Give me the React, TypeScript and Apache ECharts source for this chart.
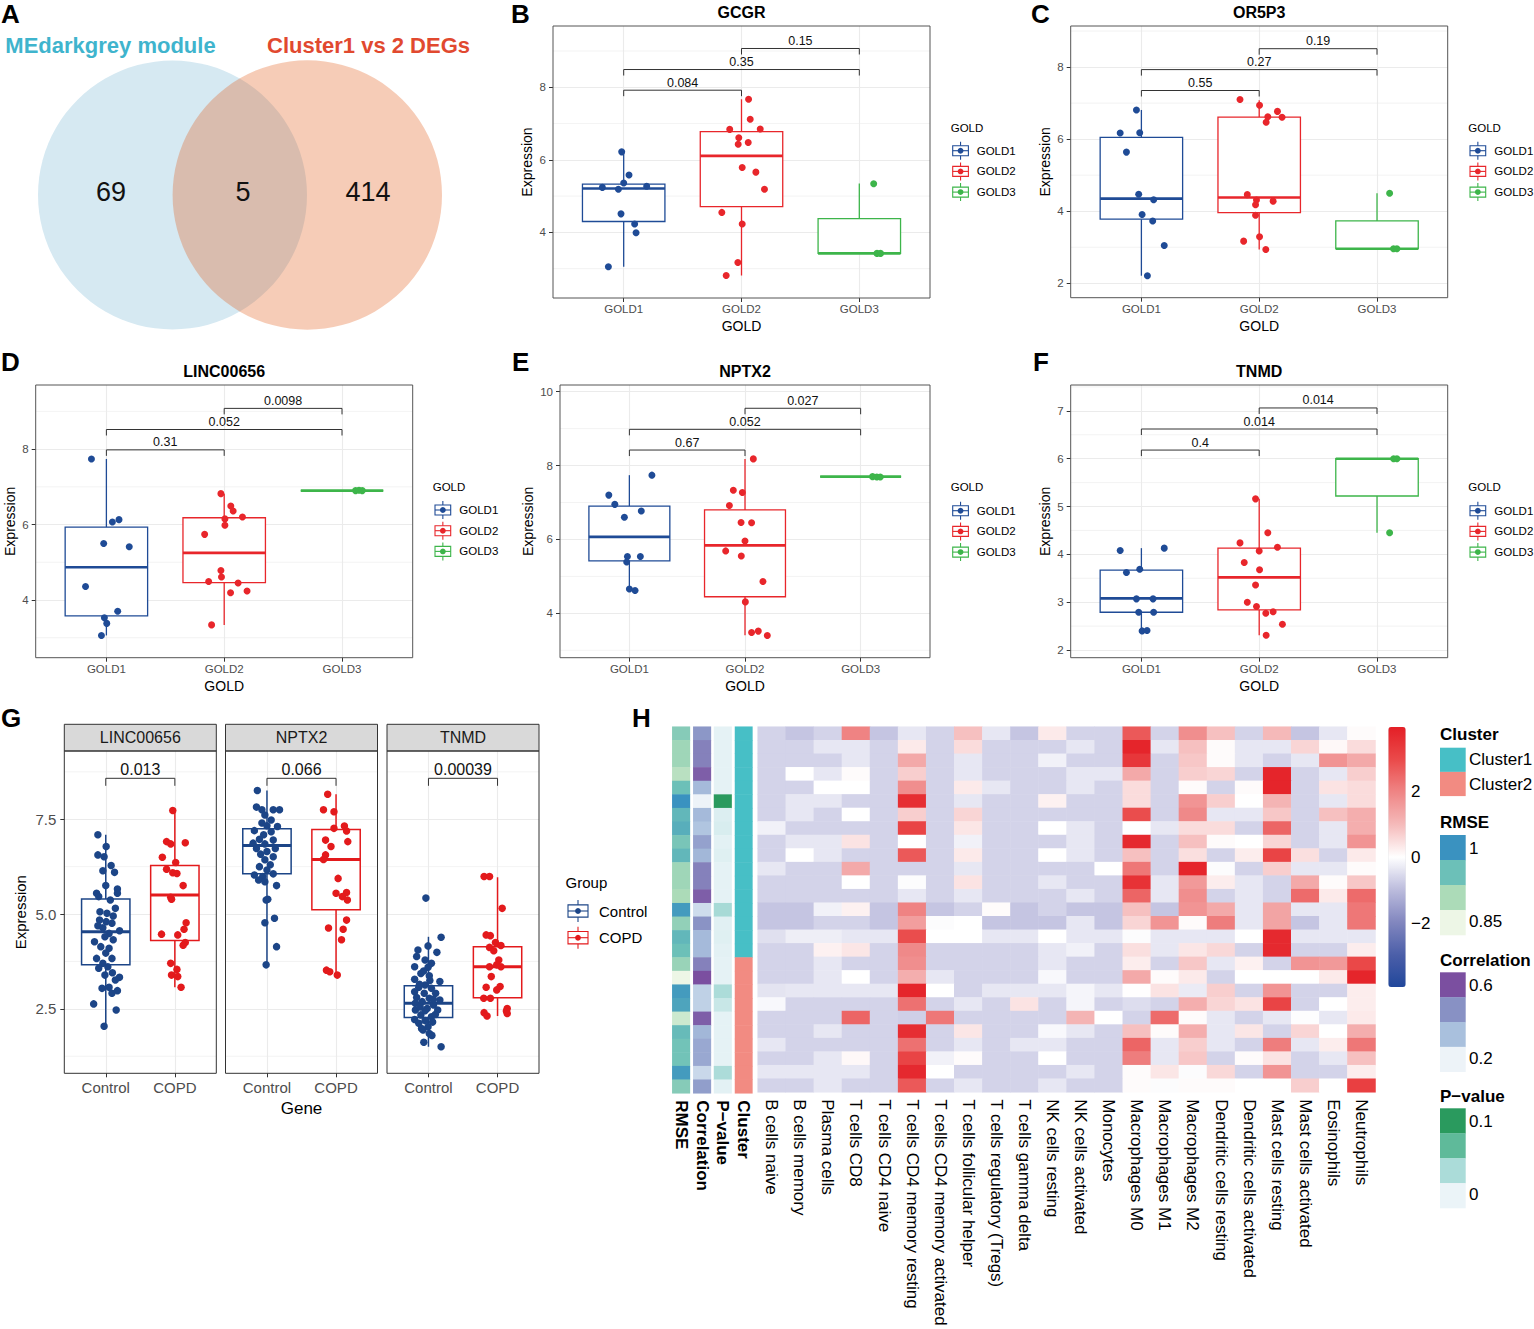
import React, { useEffect, useRef } from "react";
import * as echarts from "echarts";

const FONT = '"Liberation Sans", Arial, Helvetica, sans-serif';

// ---------------- Panel A (Venn) ----------------
const vennSets = ["MEdarkgrey module", "Cluster1 vs 2 DEGs"];
const vennCounts = [69, 5, 414];

// ---------------- Panels B-F (GOLD stages) ----------------
const GOLD = ["GOLD1", "GOLD2", "GOLD3"];
const GOLD_COLORS = ["#1f4b96", "#e8262b", "#3db54a"];

// box stats: [x, min, Q1, median, Q3, max]
const gcgrBoxes = [[1, 3.05, 4.3, 5.21, 5.33, 6.22], [2, 2.81, 4.71, 6.11, 6.78, 7.67], [3, 3.42, 3.42, 3.42, 4.38, 5.35]];
const gcgrGold1 = [[0.983, 6.22], [1.045, 5.58], [1.0, 5.36], [0.819, 5.24], [1.195, 5.27], [0.955, 5.19], [0.977, 4.51], [1.093, 4.23], [1.105, 3.99], [0.87, 3.05]];
const gcgrGold2 = [[2.06, 7.67], [2.074, 7.12], [1.9, 6.84], [2.159, 6.85], [1.977, 6.61], [1.972, 6.43], [2.057, 6.48], [2.006, 5.79], [2.122, 5.66], [2.195, 5.19], [1.833, 4.55], [2.006, 4.23], [1.969, 3.17], [1.87, 2.81]];
const gcgrGold3 = [[3.122, 5.34], [3.15, 3.42], [3.18, 3.42]];
const gcgrBrackets = [[1, 2, 7.92], [1, 3, 8.49], [2, 3, 9.07]];
const gcgrP = ["0.084", "0.35", "0.15"];

const or5p3Boxes = [[1, 2.21, 3.78, 4.35, 6.05, 6.81], [2, 2.94, 3.96, 4.38, 6.61, 7.08], [3, 2.96, 2.96, 2.96, 3.73, 4.5]];
const or5p3Gold1 = [[0.958, 6.81], [0.82, 6.17], [0.986, 6.18], [0.873, 5.64], [0.977, 4.47], [1.104, 4.32], [1.006, 3.91], [1.096, 3.73], [1.194, 3.05], [1.051, 2.21]];
const or5p3Gold2 = [[1.837, 7.1], [2.003, 6.94], [2.155, 6.77], [2.073, 6.62], [2.194, 6.61], [2.059, 6.47], [1.899, 4.46], [1.977, 4.31], [1.969, 4.18], [2.118, 4.28], [1.969, 3.89], [2.003, 3.29], [1.868, 3.17], [2.056, 2.94]];
const or5p3Gold3 = [[3.107, 4.5], [3.14, 2.96], [3.169, 2.96]];
const or5p3Brackets = [[1, 2, 7.35], [1, 3, 7.93], [2, 3, 8.51]];
const or5p3P = ["0.55", "0.27", "0.19"];

const lincBoxes = [[1, 3.06, 3.58, 4.87, 5.93, 7.74], [2, 3.34, 4.46, 5.25, 6.18, 6.82], [3, 6.9, 6.9, 6.9, 6.9, 6.9]];
const lincGold1 = [[0.873, 7.74], [1.107, 6.13], [1.051, 6.07], [0.977, 5.5], [1.194, 5.41], [0.823, 4.36], [1.096, 3.7], [0.983, 3.53], [1.003, 3.38], [0.958, 3.06]];
const lincGold2 = [[1.972, 6.82], [2.056, 6.49], [2.076, 6.36], [2.155, 6.2], [2.006, 6.15], [2.006, 5.98], [1.834, 5.74], [1.972, 4.78], [1.977, 4.61], [1.868, 4.49], [2.118, 4.45], [2.194, 4.24], [2.054, 4.19], [1.893, 3.34]];
const lincGold3 = [[3.115, 6.9], [3.144, 6.91], [3.172, 6.9]];
const lincBrackets = [[1, 2, 7.98], [1, 3, 8.52], [2, 3, 9.08]];
const lincP = ["0.31", "0.052", "0.0098"];

const nptxBoxes = [[1, 4.63, 5.42, 6.07, 6.9, 7.74], [2, 3.41, 4.45, 5.84, 6.8, 8.18], [3, 7.7, 7.7, 7.7, 7.7, 7.7]];
const nptxGold1 = [[1.195, 7.74], [0.822, 7.2], [0.874, 6.95], [1.103, 6.77], [0.957, 6.6], [0.983, 5.54], [1.095, 5.54], [0.977, 5.39], [1.0, 4.66], [1.049, 4.62]];
const nptxGold2 = [[2.072, 8.18], [1.899, 7.33], [1.977, 7.27], [1.865, 6.92], [1.966, 6.46], [2.057, 6.45], [2.0, 5.96], [1.833, 5.69], [1.968, 5.55], [2.155, 4.86], [2.003, 4.31], [2.057, 3.48], [2.115, 3.52], [2.193, 3.4]];
const nptxGold3 = [[3.103, 7.7], [3.14, 7.69], [3.17, 7.69]];
const nptxBrackets = [[1, 2, 8.42], [1, 3, 8.98], [2, 3, 9.55]];
const nptxP = ["0.67", "0.052", "0.027"];

const tnmdBoxes = [[1, 2.4, 2.79, 3.08, 3.67, 4.13], [2, 2.31, 2.84, 3.52, 4.13, 5.16], [3, 4.45, 5.22, 6.0, 6.0, 6.0]];
const tnmdGold1 = [[1.194, 4.13], [0.82, 4.08], [0.873, 3.62], [0.986, 3.69], [0.958, 3.07], [1.099, 3.07], [0.977, 2.79], [1.104, 2.79], [1.006, 2.4], [1.048, 2.41]];
const tnmdGold2 = [[1.969, 5.16], [2.073, 4.45], [1.837, 4.24], [2.155, 4.15], [2.0, 4.07], [1.873, 3.83], [2.003, 3.68], [1.969, 3.36], [1.899, 3.0], [1.977, 2.91], [2.056, 2.77], [2.118, 2.8], [2.197, 2.54], [2.059, 2.31]];
const tnmdGold3 = [[3.107, 4.45], [3.141, 6.0], [3.169, 6.0]];
const tnmdBrackets = [[1, 2, 6.18], [1, 3, 6.62], [2, 3, 7.06]];
const tnmdP = ["0.4", "0.014", "0.014"];

// ---------------- Panel G (Control vs COPD) ----------------
const GROUPS = ["Control", "COPD"];
const GROUP_COLORS = ["#1c4587", "#e31a1c"];
const facetGenes = ["LINC00656", "NPTX2", "TNMD"];
const gLincBoxes = [[1, 2.04, 3.66, 4.53, 5.4, 7.09], [2, 3.07, 4.3, 5.5, 6.28, 7.75]];
const gNptxBoxes = [[1, 3.66, 6.06, 6.81, 7.25, 8.26], [2, 3.41, 5.11, 6.44, 7.23, 8.16]];
const gTnmdBoxes = [[1, 1.5, 2.27, 2.65, 3.11, 4.4], [2, 2.31, 2.79, 3.61, 4.14, 5.97]];
const gLincCtrl = [[0.886, 7.09], [1.006, 6.78], [0.886, 6.56], [0.976, 6.51], [0.958, 6.14], [1.078, 6.28], [1.127, 6.1], [1.0, 5.75], [1.169, 5.66], [0.867, 5.55], [1.169, 5.55], [0.898, 5.46], [1.066, 5.37], [1.139, 5.15], [0.916, 5.06], [1.018, 5.02], [1.108, 4.95], [0.91, 4.84], [1.006, 4.8], [0.886, 4.69], [1.09, 4.76], [0.958, 4.64], [1.2, 4.56], [1.048, 4.49], [0.988, 4.4], [0.837, 4.27], [1.108, 4.32], [0.928, 4.14], [1.048, 4.1], [1.0, 3.97], [0.867, 3.83], [1.09, 3.83], [0.958, 3.7], [1.03, 3.61], [0.898, 3.57], [1.096, 3.45], [0.988, 3.39], [1.199, 3.33], [1.139, 3.26], [0.946, 3.04], [1.048, 3.07], [1.169, 2.98], [1.09, 2.91], [0.825, 2.63], [1.151, 2.47], [0.976, 2.04]];
const gLincCopd = [[1.97, 7.73], [1.88, 6.91], [1.94, 6.85], [2.151, 6.88], [1.819, 6.5], [2.012, 6.36], [1.88, 6.18], [1.97, 6.09], [2.03, 6.07], [2.12, 5.75], [1.94, 5.44], [1.952, 5.39], [2.163, 4.77], [2.133, 4.6], [1.807, 4.47], [2.042, 4.45], [2.151, 4.25], [2.12, 4.18], [1.94, 3.7], [2.03, 3.54], [1.952, 3.39], [2.042, 3.35], [2.09, 3.07]];
const gNptxCtrl = [[0.861, 8.26], [0.848, 7.82], [0.927, 7.75], [1.091, 7.75], [1.182, 7.75], [0.97, 7.61], [1.061, 7.48], [0.927, 7.4], [1.0, 7.33], [1.152, 7.31], [0.818, 7.2], [1.061, 7.17], [0.952, 7.09], [0.891, 6.97], [1.091, 6.95], [0.8, 6.87], [0.97, 6.85], [0.848, 6.73], [1.121, 6.73], [1.0, 6.65], [0.909, 6.58], [1.091, 6.51], [0.97, 6.43], [1.048, 6.3], [0.891, 6.25], [1.0, 6.16], [0.818, 6.03], [0.939, 5.99], [1.091, 6.06], [0.879, 5.9], [0.97, 5.85], [1.139, 5.75], [1.012, 5.39], [0.988, 5.37], [1.109, 4.89], [0.97, 4.77], [1.139, 4.14], [0.988, 3.66]];
const gNptxCopd = [[1.879, 8.16], [1.818, 7.75], [1.97, 7.7], [2.121, 7.32], [1.97, 7.26], [2.152, 7.19], [1.848, 6.95], [2.17, 6.91], [1.927, 6.78], [1.848, 6.56], [1.818, 6.44], [2.03, 5.94], [2.0, 5.55], [2.152, 5.57], [2.091, 5.46], [2.164, 5.37], [2.152, 4.84], [1.891, 4.63], [2.103, 4.6], [2.079, 4.32], [1.861, 3.52], [1.909, 3.48], [2.018, 3.39]];
const gTnmdCtrl = [[0.963, 5.42], [1.183, 4.39], [0.994, 4.16], [0.848, 4.05], [1.122, 3.99], [0.829, 3.88], [0.951, 3.79], [1.043, 3.7], [0.8, 3.61], [0.994, 3.6], [0.89, 3.43], [1.012, 3.37], [0.8, 3.28], [1.165, 3.22], [0.951, 3.13], [0.86, 3.07], [1.043, 3.04], [0.8, 2.95], [0.939, 2.91], [1.104, 2.91], [0.829, 2.8], [1.012, 2.78], [1.165, 2.73], [0.909, 2.69], [0.81, 2.65], [1.073, 2.6], [0.982, 2.51], [0.811, 2.47], [1.134, 2.47], [0.89, 2.34], [1.043, 2.29], [0.8, 2.22], [0.951, 2.19], [0.86, 2.12], [0.994, 2.03], [0.921, 1.94], [1.012, 1.85], [0.933, 1.62], [1.183, 1.5], [0.87, 3.15], [1.07, 2.75], [0.95, 2.45], [1.1, 2.35], [0.88, 2.55], [1.02, 3.25], [0.93, 3.5], [1.06, 2.15], [0.9, 1.98], [1.05, 1.8]];
const gTnmdCopd = [[1.805, 5.99], [1.884, 5.99], [2.067, 5.15], [1.835, 4.45], [1.896, 4.43], [1.97, 4.25], [2.049, 4.17], [1.884, 4.12], [1.945, 4.03], [2.018, 3.79], [1.988, 3.66], [1.884, 3.61], [2.049, 3.61], [1.909, 3.35], [1.835, 3.07], [2.037, 3.09], [1.988, 3.0], [1.8, 2.78], [1.896, 2.78], [2.14, 2.51], [2.14, 2.38], [1.805, 2.4], [1.848, 2.31], [2.128, 2.44]];
const gBrackets = [[1, 2, 8.58]];
const gP = ["0.013", "0.066", "0.00039"];

// ---------------- Panel H (immune heatmap) ----------------
const cellTypes = ["B cells naive", "B cells memory", "Plasma cells", "T cells CD8", "T cells CD4 naive", "T cells CD4 memory resting", "T cells CD4 memory activated", "T cells follicular helper", "T cells regulatory (Tregs)", "T cells gamma delta", "NK cells resting", "NK cells activated", "Monocytes", "Macrophages M0", "Macrophages M1", "Macrophages M2", "Dendritic cells resting", "Dendritic cells activated", "Mast cells resting", "Mast cells activated", "Eosinophils", "Neutrophils"];
const immuneZ = [
  [-0.65, -0.85, -0.65, 2.0, -0.85, -0.35, -0.65, 0.9, -0.35, -0.85, 0.3, -0.65, -0.65, 2.7, -0.65, 1.8, 0.9, -0.65, 1.0, -0.85, -0.35, 0.05],
  [-0.65, -0.65, -0.35, -0.35, -0.65, 0.3, -0.65, 0.5, -0.65, -0.65, -0.65, -0.35, -0.65, 3.8, -0.35, 0.9, 0.05, -0.35, -0.35, 0.6, 0.1, 0.5],
  [-0.65, -0.65, -0.65, -0.35, -0.65, 1.3, -0.65, -0.35, -0.65, -0.65, -0.2, -0.65, -0.65, 3.4, -0.65, 0.8, 0.05, -0.35, -0.65, -0.35, 1.7, 1.3],
  [-0.65, 0.0, -0.35, 0.05, -0.65, 0.7, -0.65, -0.35, -0.65, -0.65, -0.65, -0.35, -0.35, 1.3, -0.65, 0.7, 0.6, -0.65, 3.8, -0.65, -0.35, 0.7],
  [-0.65, -0.65, 0.0, 0.0, -0.65, 1.8, -0.65, 0.3, -0.35, -0.65, -0.65, -0.35, -0.65, 0.5, -0.65, 0.05, -0.65, 0.05, 3.8, -0.65, 0.4, 0.5],
  [-0.65, -0.35, -0.35, -0.65, -0.65, 3.6, -0.65, -0.35, -0.65, -0.65, 0.2, -0.65, -0.65, 0.5, -0.65, 1.7, 0.7, 0.0, 1.1, -0.65, -0.35, 0.5],
  [-0.65, -0.35, -0.65, 0.0, -0.65, 0.7, -0.65, 0.6, -0.65, -0.65, -0.65, -0.65, -0.65, 2.9, -0.65, 1.9, -0.35, -0.35, 0.8, -0.65, 0.9, 1.2],
  [-0.2, -0.65, -0.65, -0.65, -0.65, 3.1, -0.65, 0.35, -0.65, -0.65, 0.0, -0.35, -0.65, 0.0, -0.35, 0.5, 0.5, -0.65, 2.5, -0.65, -0.35, 1.2],
  [-0.65, -0.35, -0.35, 0.4, -0.65, 0.0, -0.65, -0.2, -0.65, -0.65, -0.65, -0.35, -0.65, 3.7, -0.65, 0.9, 0.05, 0.0, 0.6, -0.65, -0.35, 1.7],
  [-0.65, 0.0, -0.35, -0.65, -0.65, 2.7, -0.65, 0.3, -0.65, -0.65, 0.0, -0.35, -0.65, 0.9, -0.65, 0.45, -0.65, 0.25, 3.1, 0.45, -0.65, 0.3],
  [-0.35, -0.65, -0.65, 1.3, -0.65, -0.65, -0.65, -0.35, -0.65, -0.65, -0.65, -0.65, 0.0, 2.2, -0.65, 3.8, -0.05, -0.65, 0.7, -0.35, -0.35, 0.05],
  [-0.65, -0.65, -0.65, 0.0, -0.65, -0.05, -0.65, 0.4, -0.65, -0.65, -0.35, -0.65, -0.65, 3.5, -0.35, 1.6, 0.25, -0.35, -0.65, 1.3, 0.05, 0.8],
  [-0.65, -0.65, -0.65, -0.65, -0.65, -0.35, -0.65, -0.35, -0.65, -0.65, -0.65, -0.35, -0.65, 2.5, -0.35, 1.8, -0.65, -0.35, -0.65, 2.4, 0.3, 2.4],
  [-0.85, -0.85, -0.2, 0.2, -0.85, 2.0, -0.85, -0.65, 0.05, -0.85, -0.65, -0.85, -0.85, 0.9, -0.85, 1.7, 1.3, -0.35, 1.4, -0.35, -0.35, 2.2],
  [-0.85, -0.85, -0.65, -0.65, -0.85, 1.5, -0.05, 0.0, -0.85, -0.85, -0.85, -0.35, -0.85, 0.6, 1.7, 0.05, 2.1, -0.35, 1.4, -0.85, -0.35, 2.2],
  [-0.45, -0.25, -0.25, -0.35, -0.35, 2.9, 0.0, 0.0, -0.35, -0.35, 0.0, -0.35, -0.35, -0.05, -0.35, -0.35, -0.35, 0.0, 3.7, -0.35, -0.35, -0.35],
  [-0.65, -0.65, 0.2, 0.35, -0.65, 1.9, -0.65, -0.65, -0.65, -0.65, -0.35, -0.2, -0.65, 0.45, -0.35, 0.35, 0.55, -0.65, 3.7, -0.65, -0.65, 0.25],
  [-0.65, -0.65, -0.35, -0.65, -0.65, 1.8, -0.65, -0.65, -0.65, -0.65, -0.35, -0.65, -0.65, 0.25, -0.65, 0.8, -0.35, 0.2, -0.65, 1.7, 1.6, 3.0],
  [-0.65, -0.65, -0.35, 0.0, -0.65, 1.2, -0.35, -0.65, -0.65, -0.65, -0.1, -0.65, -0.65, 1.3, 0.05, 0.3, -0.65, 0.0, 0.0, 0.0, 0.3, 3.8],
  [-0.4, -0.35, -0.35, -0.35, -0.35, 3.8, 0.0, -0.65, -0.35, -0.35, -0.35, -0.15, -0.35, 0.02, 0.4, -0.3, 0.7, -0.65, 1.7, -0.65, -0.65, 0.25],
  [-0.1, -0.65, -0.65, -0.65, -0.65, 2.3, -0.65, -0.35, -0.65, 0.4, -0.65, -0.15, -0.65, -0.5, -0.65, 1.2, 0.6, 0.4, 3.1, -0.65, 0.0, 0.25],
  [-0.65, -0.65, -0.65, 2.5, -0.65, -0.7, 2.2, -0.65, -0.65, -0.65, -0.65, 1.1, 0.0, -0.65, 2.4, 0.05, -0.35, -0.65, -0.35, -0.03, -0.35, 0.3],
  [-0.65, -0.65, -0.35, -0.65, -0.65, 3.6, -0.65, 0.35, -0.65, -0.65, -0.1, -0.35, -0.65, 0.9, 0.05, 1.2, -0.35, 0.35, -0.65, 0.6, 0.0, 1.2],
  [-0.35, -0.65, -0.65, -0.65, -0.65, 2.3, -0.65, -0.35, -0.65, -0.35, -0.35, -0.65, -0.65, 2.5, -0.35, 0.7, -0.35, -0.65, 2.1, -0.35, 0.25, 2.2],
  [-0.65, -0.65, -0.35, 0.1, -0.65, 3.1, -0.2, 0.05, -0.65, -0.65, 0.0, -0.65, -0.65, 2.1, -0.35, 0.8, -0.65, 0.05, 0.4, -0.65, -0.35, 0.9],
  [-0.35, -0.35, -0.35, -0.35, -0.65, 3.7, 0.0, -0.65, -0.65, -0.65, -0.65, -0.35, -0.65, 0.05, 0.35, -0.05, 0.55, -0.65, 1.7, -0.65, -0.65, 0.25],
  [-0.65, -0.65, -0.35, -0.65, -0.65, 2.7, -0.65, -0.35, -0.65, -0.65, -0.35, -0.65, -0.65, 0.05, -0.05, 0.05, 0.05, 0.0, 0.0, 0.7, 0.0, 3.2],
];
const rmse = [0.93, 0.91, 0.91, 0.89, 0.95, 1.0, 0.96, 0.97, 0.94, 0.96, 0.91, 0.91, 0.9, 0.99, 0.92, 0.96, 0.95, 0.915, 0.85, 0.99, 0.98, 0.875, 0.955, 0.945, 0.945, 0.99, 0.93];
const correlation = [0.45, 0.5, 0.5, 0.57, 0.35, 0.2, 0.35, 0.32, 0.42, 0.36, 0.5, 0.5, 0.57, 0.26, 0.46, 0.35, 0.35, 0.5, 0.6, 0.29, 0.29, 0.57, 0.36, 0.4, 0.4, 0.27, 0.43];
const pValue = [0.003, 0.003, 0.003, 0.003, 0.003, 0.1, 0.008, 0.01, 0.004, 0.006, 0.003, 0.003, 0.003, 0.035, 0.005, 0.006, 0.004, 0.003, 0.003, 0.033, 0.018, 0.003, 0.003, 0.003, 0.003, 0.033, 0.004];
const clusterOf = ["Cluster1", "Cluster1", "Cluster1", "Cluster1", "Cluster1", "Cluster1", "Cluster1", "Cluster1", "Cluster1", "Cluster1", "Cluster1", "Cluster1", "Cluster1", "Cluster1", "Cluster1", "Cluster1", "Cluster1", "Cluster2", "Cluster2", "Cluster2", "Cluster2", "Cluster2", "Cluster2", "Cluster2", "Cluster2", "Cluster2", "Cluster2"];
const clusterNames = ["Cluster1", "Cluster2"];
const zTicks = [2, 0, -2];

// colour scales (styles)
const HEAT_COLORS = ["#21479b", "#4c5fa9", "#8287bf", "#bcbcdd", "#ffffff", "#f5baba", "#ef8585", "#ea4a4a", "#e41f26"];
const RMSE_COLORS = ["#edf6e6", "#acdbb8", "#6cc0b8", "#3a92c0"];
const CORR_COLORS = ["#edf3f8", "#a9c0dd", "#8891c4", "#7b4fa0"];
const PVAL_COLORS = ["#ebf4f8", "#abdcd9", "#5fba9a", "#2a9a5e"];
const CLUSTER_COLORS = ["#47bfc6", "#f28b82"];

function buildOption() {
  const option: any = {
    animation: false,
    backgroundColor: "#ffffff",
    textStyle: { fontFamily: FONT },
    grid: [],
    xAxis: [],
    yAxis: [],
    series: [],
    visualMap: [],
    graphic: { elements: [] },
  };
  const G: any[] = option.graphic.elements;

  const txt = (x: number, y: number, text: string, size: number, o: any = {}) => {
    G.push({
      type: "text", x, y, z: o.z ?? 120, silent: true,
      style: {
        text, fontSize: size, fontFamily: FONT, fontWeight: o.bold ? "bold" : "normal",
        fill: o.fill || "#000",
        textAlign: o.align || "left", align: o.align || "left",
        textVerticalAlign: "middle", verticalAlign: "middle",
      },
    });
  };
  const border = (x: number, y: number, w: number, h: number, stroke = "#333333") => {
    G.push({ type: "rect", z: 110, silent: true, shape: { x, y, width: w, height: h }, style: { fill: "none", stroke, lineWidth: 1 } });
  };

  const findTick = (ticks: number[], v: number) => ticks.findIndex((t) => Math.abs(t - v) < 1e-6);

  const valueAxis = (gi: number, min: number, max: number, step: number, ticks: number[], o: any) => ({
    type: "value", gridIndex: gi, min, max, minInterval: step, maxInterval: step,
    splitLine: { show: true, lineStyle: { color: "#ebebeb", width: 1.1 } },
    axisLine: { show: false },
    axisTick: { show: o.showTicks !== false, customValues: ticks, length: 4, lineStyle: { color: "#333333", width: 1 } },
    axisLabel: {
      show: o.showLabels !== false, customValues: ticks, color: "#4d4d4d", fontSize: o.fontSize, fontFamily: FONT, margin: o.margin,
      formatter: (v: number) => { const i = findTick(ticks, v); return i < 0 ? "" : o.labels[i]; },
    },
    name: o.name || "", nameLocation: "middle", nameGap: o.nameGap || 20,
    nameTextStyle: { fontSize: o.nameSize || 14, color: "#000", fontFamily: FONT },
  });

  const minorSeries = (gi: number, values: number[]) => ({
    type: "custom", xAxisIndex: gi, yAxisIndex: gi, silent: true, z: 1,
    encode: { x: 0, y: 1 }, data: values.map((v) => [1, v]),
    renderItem: (params: any, api: any) => {
      const cs = params.coordSys;
      const y = api.coord([1, api.value(1)])[1];
      return { type: "line", shape: { x1: cs.x, y1: y, x2: cs.x + cs.width, y2: y }, style: { stroke: "#ebebeb", lineWidth: 0.6 } };
    },
  });

  const boxSeries = (gi: number, data: number[][], colors: string[], lw: number) => ({
    type: "custom", xAxisIndex: gi, yAxisIndex: gi, silent: true, z: 2,
    encode: { x: 0, y: [1, 2, 3, 4, 5] }, data,
    renderItem: (params: any, api: any) => {
      const x = api.value(0);
      const p = [1, 2, 3, 4, 5].map((i) => api.coord([x, api.value(i)]));
      const half = api.size([0.7, 0])[0] / 2;
      const c = colors[params.dataIndex];
      const cx = p[0][0];
      return {
        type: "group",
        children: [
          { type: "line", shape: { x1: cx, y1: p[0][1], x2: cx, y2: p[1][1] }, style: { stroke: c, lineWidth: lw } },
          { type: "line", shape: { x1: cx, y1: p[3][1], x2: cx, y2: p[4][1] }, style: { stroke: c, lineWidth: lw } },
          { type: "rect", shape: { x: cx - half, y: p[3][1], width: 2 * half, height: p[1][1] - p[3][1] }, style: { fill: "#ffffff", stroke: c, lineWidth: lw } },
          { type: "line", shape: { x1: cx - half, y1: p[2][1], x2: cx + half, y2: p[2][1] }, style: { stroke: c, lineWidth: lw * 2 } },
        ],
      };
    },
  });

  const bracketSeries = (gi: number, data: number[][], labels: string[], tip: number, fs: number) => ({
    type: "custom", xAxisIndex: gi, yAxisIndex: gi, silent: true, z: 4,
    encode: { x: [0, 1], y: 2 }, data,
    renderItem: (params: any, api: any) => {
      const a = api.coord([api.value(0), api.value(2)]);
      const b = api.coord([api.value(1), api.value(2)]);
      return {
        type: "group",
        children: [
          { type: "polyline", shape: { points: [[a[0], a[1] + tip], a, b, [b[0], b[1] + tip]] }, style: { stroke: "#333333", lineWidth: 1, fill: "none" } },
          {
            type: "text", x: (a[0] + b[0]) / 2, y: a[1] - 1,
            style: { text: labels[params.dataIndex], fill: "#111111", fontSize: fs, fontFamily: FONT, align: "center", verticalAlign: "bottom", textAlign: "center", textVerticalAlign: "bottom" },
          },
        ],
      };
    },
  });

  const scatterSeries = (gi: number, data: number[][], color: string, size: number) => ({
    type: "scatter", xAxisIndex: gi, yAxisIndex: gi, silent: true, z: 3,
    data, symbol: "circle", symbolSize: size, itemStyle: { color, opacity: 1, borderWidth: 0 },
  });

  const keyGlyph = (kx: number, cy: number, kw: number, kh: number, wh: number, color: string) => {
    const cx = kx + kw / 2;
    G.push({ type: "line", z: 120, silent: true, shape: { x1: cx, y1: cy - wh, x2: cx, y2: cy + wh }, style: { stroke: color, lineWidth: 1.1 } });
    G.push({ type: "rect", z: 121, silent: true, shape: { x: kx, y: cy - kh / 2, width: kw, height: kh }, style: { fill: "#ffffff", stroke: color, lineWidth: 1.1 } });
    G.push({ type: "line", z: 122, silent: true, shape: { x1: kx, y1: cy, x2: kx + kw, y2: cy }, style: { stroke: color, lineWidth: 1.1 } });
    G.push({ type: "circle", z: 123, silent: true, shape: { cx, cy, r: 2.9 }, style: { fill: color } });
  };

  // ---------- Panel letters ----------
  const letters: [string, number, number][] = [["A", 1, 14], ["B", 511, 14], ["C", 1031, 14], ["D", 1, 362], ["E", 512, 362], ["F", 1033, 362], ["G", 1, 718], ["H", 632, 718]];
  letters.forEach(([l, x, y]) => txt(x, y, l, 26, { bold: true }));

  // ---------- Panel A: Venn ----------
  G.push({ type: "circle", z: 1, silent: true, shape: { cx: 172.5, cy: 195, r: 134.5 }, style: { fill: "#d6e9f2" } });
  G.push({ type: "circle", z: 2, silent: true, shape: { cx: 307.3, cy: 195, r: 134.7 }, style: { fill: "rgba(225,85,18,0.30)" } });
  txt(110.5, 45, vennSets[0], 22, { bold: true, fill: "#3fb4cd", align: "center" });
  txt(368.5, 45, vennSets[1], 22, { bold: true, fill: "#e1492f", align: "center" });
  txt(111, 192, String(vennCounts[0]), 27, { align: "center", fill: "#111" });
  txt(243, 192, String(vennCounts[1]), 27, { align: "center", fill: "#111" });
  txt(368, 192, String(vennCounts[2]), 27, { align: "center", fill: "#111" });

  // ---------- Panels B-F ----------
  const goldPanels = [
    { title: "GCGR", box: [553, 26, 377, 272], yr: [2.19, 9.69], step: 2, ticks: [4, 6, 8], minors: [3, 5, 7, 9], gap: 19, boxes: gcgrBoxes, pts: [gcgrGold1, gcgrGold2, gcgrGold3], br: gcgrBrackets, p: gcgrP, leg: [950.7, 127.7, 952.7, 976.7, 150.7], titleY: 12 },
    { title: "OR5P3", box: [1070.7, 26, 377, 271.7], yr: [1.6, 9.14], step: 2, ticks: [2, 4, 6, 8], minors: [3, 5, 7, 9], gap: 19, boxes: or5p3Boxes, pts: [or5p3Gold1, or5p3Gold2, or5p3Gold3], br: or5p3Brackets, p: or5p3P, leg: [1468.3, 127.7, 1470, 1494.3, 150.7], titleY: 12 },
    { title: "LINC00656", box: [35.7, 385, 377, 272.7], yr: [2.47, 9.7], step: 2, ticks: [4, 6, 8], minors: [3, 5, 7, 9], gap: 19, boxes: lincBoxes, pts: [lincGold1, lincGold2, lincGold3], br: lincBrackets, p: lincP, leg: [432.7, 487.3, 435, 459.3, 510], titleY: 371.7 },
    { title: "NPTX2", box: [560, 385, 370, 272.7], yr: [2.8, 10.18], step: 2, ticks: [4, 6, 8, 10], minors: [3, 5, 7, 9], gap: 25, boxes: nptxBoxes, pts: [nptxGold1, nptxGold2, nptxGold3], br: nptxBrackets, p: nptxP, leg: [950.7, 487.3, 952.7, 976.7, 510.7], titleY: 371.7 },
    { title: "TNMD", box: [1070.7, 385, 377, 272.7], yr: [1.84, 7.54], step: 1, ticks: [2, 3, 4, 5, 6, 7], minors: [2.5, 3.5, 4.5, 5.5, 6.5, 7.5], gap: 19, boxes: tnmdBoxes, pts: [tnmdGold1, tnmdGold2, tnmdGold3], br: tnmdBrackets, p: tnmdP, leg: [1468.3, 487.3, 1470, 1494.3, 510.7], titleY: 371.7 },
  ];

  goldPanels.forEach((pn) => {
    const gi = option.grid.length;
    const [l, t, w, h] = pn.box;
    option.grid.push({ left: l, top: t, width: w, height: h, show: false });
    option.xAxis.push(valueAxis(gi, 0.4, 3.6, 1, [1, 2, 3], { labels: GOLD, fontSize: 11.5, margin: 5, name: "GOLD", nameGap: 21, nameSize: 14 }));
    option.yAxis.push(valueAxis(gi, pn.yr[0], pn.yr[1], pn.step, pn.ticks, { labels: pn.ticks.map(String), fontSize: 11.5, margin: 7, name: "Expression", nameGap: pn.gap, nameSize: 14 }));
    option.series.push(minorSeries(gi, pn.minors));
    option.series.push(boxSeries(gi, pn.boxes, GOLD_COLORS, 1.3));
    pn.pts.forEach((d, k) => option.series.push(scatterSeries(gi, d, GOLD_COLORS[k], 7)));
    option.series.push(bracketSeries(gi, pn.br, pn.p, 6, 12.5));
    border(l, t, w, h, "#555555");
    txt(l + w / 2, pn.titleY, pn.title, 16, { bold: true, align: "center" });
    const [tx, ty, kx, lx, y0] = pn.leg;
    txt(tx, ty, "GOLD", 11.5);
    GOLD.forEach((g, k) => {
      const cy = y0 + k * 20.7;
      keyGlyph(kx, cy, 15.7, 10, 9, GOLD_COLORS[k]);
      txt(lx, cy, g, 11.5);
    });
  });

  // ---------- Panel G ----------
  const facetLeft = [64.3, 225.5, 387];
  const facetBoxes = [gLincBoxes, gNptxBoxes, gTnmdBoxes];
  const facetPts = [[gLincCtrl, gLincCopd], [gNptxCtrl, gNptxCopd], [gTnmdCtrl, gTnmdCopd]];
  facetGenes.forEach((gene, f) => {
    const gi = option.grid.length;
    const l = facetLeft[f], t = 751, w = 152, h = 322.3;
    option.grid.push({ left: l, top: t, width: w, height: h, show: false });
    option.xAxis.push(valueAxis(gi, 0.4, 2.6, 1, [1, 2], { labels: GROUPS, fontSize: 15, margin: 7, name: f === 1 ? "Gene" : "", nameGap: 27, nameSize: 17 }));
    option.yAxis.push(valueAxis(gi, 0.8, 9.3, 2.5, [2.5, 5, 7.5], { labels: ["2.5", "5.0", "7.5"], fontSize: 15, margin: 8, showLabels: f === 0, showTicks: f === 0, name: f === 0 ? "Expression" : "", nameGap: 36, nameSize: 15 }));
    option.series.push(minorSeries(gi, [1.25, 3.75, 6.25, 8.75]));
    option.series.push(boxSeries(gi, facetBoxes[f], GROUP_COLORS, 1.5));
    facetPts[f].forEach((d, k) => option.series.push(scatterSeries(gi, d, GROUP_COLORS[k], 7.5)));
    option.series.push(bracketSeries(gi, gBrackets, [gP[f]], 7.5, 16));
    border(l, t, w, h, "#333333");
    G.push({ type: "rect", z: 105, silent: true, shape: { x: l, y: 724.3, width: w, height: 26.7 }, style: { fill: "#d9d9d9", stroke: "#333333", lineWidth: 1 } });
    txt(l + w / 2, 737.7, gene, 16, { align: "center", fill: "#1a1a1a" });
  });
  txt(565.6, 882, "Group", 15);
  GROUPS.forEach((g, k) => {
    const cy = 911 + k * 26.7;
    keyGlyph(568, cy, 20, 12.3, 11, GROUP_COLORS[k]);
    txt(599, cy, g, 15);
  });

  // ---------- Panel H heatmap ----------
  const rowIds = clusterOf.map((_, i) => "S" + (i + 1));
  const hTop = 726.7, hHeight = 366.6;
  const catAxis = (gi: number, data: string[], bold: boolean) => ({
    type: "category", gridIndex: gi, data, position: "bottom",
    axisLine: { show: false }, axisTick: { show: false }, splitLine: { show: false },
    axisLabel: { rotate: -90, interval: 0, fontSize: 17, color: "#000", margin: 7, fontFamily: FONT, fontWeight: bold ? "bold" : "normal" },
  });
  const rowAxis = (gi: number) => ({ type: "category", gridIndex: gi, data: rowIds, inverse: true, show: false });

  // main heatmap
  let gi = option.grid.length;
  option.grid.push({ left: 757.7, top: hTop, width: 617.8, height: hHeight, show: false });
  option.xAxis.push(catAxis(gi, cellTypes, false));
  option.yAxis.push(rowAxis(gi));
  const heatData: number[][] = [];
  immuneZ.forEach((row, r) => row.forEach((v, c) => heatData.push([c, r, v])));
  const mainIdx = option.series.length;
  option.series.push({ type: "heatmap", xAxisIndex: gi, yAxisIndex: gi, data: heatData, silent: true, progressive: 0, itemStyle: { borderWidth: 0 } });
  option.visualMap.push({
    type: "continuous", seriesIndex: mainIdx, min: -3.94, max: 3.94, dimension: 2,
    inRange: { color: HEAT_COLORS }, calculable: false, show: true,
    left: 1388.3, top: 727, itemWidth: 17.4, itemHeight: 260, padding: 0, text: null,
    textStyle: { color: "#000", fontSize: 0 },
  });
  zTicks.forEach((z) => txt(1411, 857 - z * 33, z < 0 ? "\u2212" + Math.abs(z) : String(z), 17));

  // annotation columns
  const annots = [
    { name: "RMSE", left: 672.3, values: rmse, min: 0.85, max: 1.0, colors: RMSE_COLORS },
    { name: "Correlation", left: 693.3, values: correlation, min: 0.2, max: 0.6, colors: CORR_COLORS },
    { name: "P\u2212value", left: 714.0, values: pValue, min: 0, max: 0.1, colors: PVAL_COLORS },
  ];
  annots.forEach((a) => {
    const g = option.grid.length;
    option.grid.push({ left: a.left, top: hTop, width: 17.6, height: hHeight, show: false });
    option.xAxis.push(catAxis(g, [a.name], true));
    option.yAxis.push(rowAxis(g));
    const si = option.series.length;
    option.series.push({ type: "heatmap", xAxisIndex: g, yAxisIndex: g, data: a.values.map((v, r) => [0, r, v]), silent: true, progressive: 0 });
    option.visualMap.push({ type: "continuous", seriesIndex: si, min: a.min, max: a.max, dimension: 2, inRange: { color: a.colors }, show: false });
  });
  {
    const g = option.grid.length;
    option.grid.push({ left: 735.0, top: hTop, width: 17.4, height: hHeight, show: false });
    option.xAxis.push(catAxis(g, ["Cluster"], true));
    option.yAxis.push(rowAxis(g));
    const si = option.series.length;
    option.series.push({ type: "heatmap", xAxisIndex: g, yAxisIndex: g, data: clusterOf.map((c, r) => [0, r, clusterNames.indexOf(c) + 1]), silent: true, progressive: 0 });
    option.visualMap.push({ type: "piecewise", seriesIndex: si, dimension: 2, pieces: [{ value: 1, color: CLUSTER_COLORS[0] }, { value: 2, color: CLUSTER_COLORS[1] }], show: false });
  }

  // right legends
  txt(1440, 734, "Cluster", 17, { bold: true });
  clusterNames.forEach((c, k) => {
    G.push({ type: "rect", z: 110, silent: true, shape: { x: 1440, y: 747.7 + k * 24.2, width: 25.7, height: 24.2 }, style: { fill: CLUSTER_COLORS[k] } });
    txt(1469, 759.8 + k * 24.2, c, 17);
  });
  const contLegend = (title: string, ty: number, y0: number, y1: number, colors: string[], hi: string, lo: string) => {
    txt(1440, ty, title, 17, { bold: true });
    const hh = (y1 - y0) / 4;
    const rev = colors.slice().reverse();
    rev.forEach((c, k) => G.push({ type: "rect", z: 110, silent: true, shape: { x: 1440, y: y0 + k * hh, width: 25.7, height: hh + 0.3 }, style: { fill: c } }));
    txt(1469, y0 + hh / 2 + 1, hi, 17);
    txt(1469, y1 - hh / 2 - 1, lo, 17);
  };
  contLegend("RMSE", 822.7, 835, 935, RMSE_COLORS, "1", "0.85");
  contLegend("Correlation", 960, 972.3, 1071.7, CORR_COLORS, "0.6", "0.2");
  contLegend("P\u2212value", 1096.7, 1108.3, 1208, PVAL_COLORS, "0.1", "0");

  return option;
}

export default function App() {
  const ref = useRef<HTMLDivElement>(null);
  useEffect(() => {
    if (!ref.current) return;
    const chart = echarts.init(ref.current, undefined, { renderer: "svg", width: 1534, height: 1329 });
    chart.setOption(buildOption());
    return () => chart.dispose();
  }, []);
  return <div ref={ref} style={{ position: "absolute", left: 0, top: 0, width: 1534, height: 1329, background: "#ffffff" }} />;
}
